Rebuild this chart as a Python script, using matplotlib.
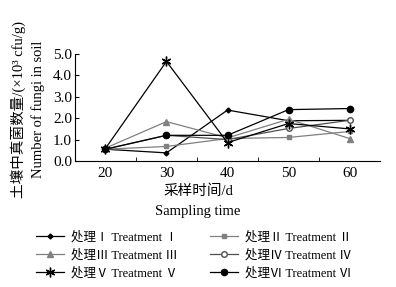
import matplotlib
matplotlib.use('Agg')
import matplotlib.pyplot as plt
import numpy as np

plt.rcParams['font.family'] = ['Liberation Serif', 'Noto Sans CJK SC']

days = ['20', '30', '40', '50', '60']
t1 = [0.55, 0.38, 2.38, 1.88, 1.90]
t2 = [0.55, 0.68, 1.05, 1.10, 1.38]
t3 = [0.60, 1.84, 1.08, 1.95, 1.05]
t4 = [0.55, 1.20, 1.00, 1.52, 1.90]
t5 = [0.58, 4.65, 0.86, 1.75, 1.50]
t6 = [0.55, 1.20, 1.20, 2.40, 2.45]

labels = ['处理Ⅰ Treatment Ⅰ', '处理Ⅱ Treatment Ⅱ', '处理Ⅲ Treatment Ⅲ',
          '处理Ⅳ Treatment Ⅳ', '处理Ⅴ Treatment Ⅴ', '处理Ⅵ Treatment Ⅵ']

fig = plt.figure(figsize=(3.96, 2.87), dpi=100)
ax = fig.add_axes([0.189, 0.439, 0.771, 0.373])

x = np.arange(len(days))
styles = [
    dict(color='black', marker='D', ms=2.5),
    dict(color='#808080', marker='s', ms=3.5),
    dict(color='#808080', marker='^', ms=4),
    dict(color='#505050', marker='o', ms=4, mfc='white'),
    dict(color='black', marker=(6, 2, 0), ms=7, mew=1.0),
    dict(color='black', marker='o', ms=4.5),
]
series = [t1, t2, t3, t4, t5, t6]
lines = []
for i, vals in enumerate(series):
    ln, = ax.plot(x, vals, lw=0.9, label=labels[i], **styles[i])
    lines.append(ln)

ax.set_xlim(-0.5, 4.5)
ax.set_ylim(0, 5)
ax.set_xticks(x)
ax.set_xticklabels(days)
ax.set_xticks(np.arange(-0.5, 4.6, 1.0)[1:-1], minor=True)
ax.tick_params(axis='x', which='major', length=0, labelsize=11, pad=4)
ax.tick_params(axis='x', which='minor', direction='in', length=3)
ax.set_yticks(np.arange(0, 5.1, 1.0))
ax.set_yticklabels([f'{v:.1f}' for v in np.arange(0, 5.1, 1.0)])
ax.tick_params(axis='y', direction='in', length=3, labelsize=11, pad=2)
for s in ['top', 'right']:
    ax.spines[s].set_visible(False)

fig.text(0.5, 0.335, '采样时间/d', ha='center', va='center', fontsize=10.5)
fig.text(0.5, 0.263, 'Sampling time', ha='center', va='center', fontsize=10.5)
fig.text(0.045, 0.62, '土壤中真菌数量/(×10³ cfu/g)', rotation=90,
         ha='center', va='center', fontsize=10.5)
fig.text(0.095, 0.62, 'Number of fungi in soil', rotation=90,
         ha='center', va='center', fontsize=10.5)

fig.legend(handles=[lines[0], lines[2], lines[4], lines[1], lines[3], lines[5]],
           labels=[labels[0], labels[2], labels[4], labels[1], labels[3], labels[5]],
           ncol=2, loc='center', bbox_to_anchor=(0.49, 0.11), frameon=False,
           fontsize=9, handlelength=2.2, columnspacing=2.6, labelspacing=0.45,
           handletextpad=0.6)

fig.savefig('out.png', dpi=100)
